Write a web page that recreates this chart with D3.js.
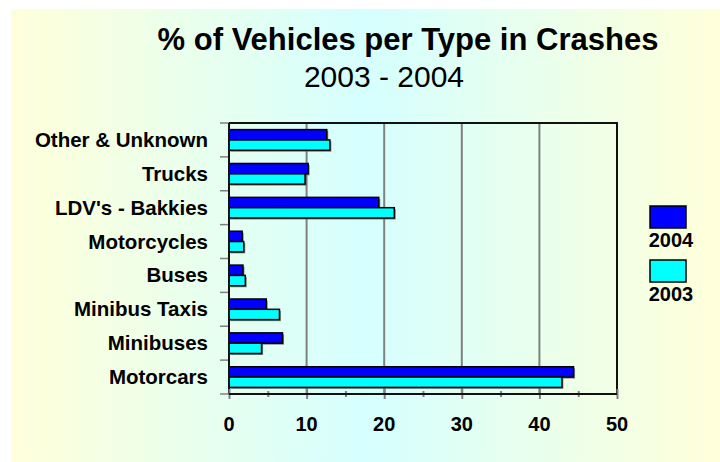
<!DOCTYPE html>
<html><head><meta charset="utf-8">
<script src="https://cdn.jsdelivr.net/npm/d3@7"></script>
<style>html,body{margin:0;padding:0;background:#fff;}svg{display:block;}</style>
</head><body><svg id="chart" width="720" height="462"></svg>
<script>
const categories = ["Other & Unknown","Trucks","LDV's - Bakkies","Motorcycles","Buses","Minibus Taxis","Minibuses","Motorcars"];
const seriesNames = ["2004","2003"];
const values2004 = [12.6, 10.2, 19.3, 1.7, 1.8, 4.8, 6.9, 44.4];
const values2003 = [13.0, 9.8, 21.3, 1.9, 2.1, 6.5, 4.2, 42.9];
const xTicks = [0,10,20,30,40,50];
const colors = {"2004":"#0000FF","2003":"#00FFFF"};
const titleText = "% of Vehicles per Type in Crashes";
const subtitleText = "2003 - 2004";

const svg = d3.select("#chart");
const font = "Arial, 'Liberation Sans', sans-serif";

const defs = svg.append("defs");
const grad = defs.append("linearGradient").attr("id","bg").attr("x1","0%").attr("x2","100%").attr("y1","0%").attr("y2","0%");
grad.append("stop").attr("offset","0%").attr("stop-color","#FFFFDA");
grad.append("stop").attr("offset","50%").attr("stop-color","#D5FFFF");
grad.append("stop").attr("offset","100%").attr("stop-color","#FFFFDA");
svg.append("rect").attr("x",11).attr("y",9).attr("width",709).attr("height",453).attr("fill","url(#bg)");

const L = 229, R = 617, T = 123, B = 394;
const x = d3.scaleLinear().domain([0,50]).range([L,R]);
const y0 = d3.scaleBand().domain(categories).range([T,B]).paddingInner(0).paddingOuter(0);
const y1 = d3.scaleBand().domain(seriesNames).range([0,y0.bandwidth()]).paddingInner(0).paddingOuter(0.64);

// gridlines
svg.append("g").selectAll("line").data(xTicks.filter(d=>d>0&&d<50)).join("line")
  .attr("x1",d=>x(d)).attr("x2",d=>x(d)).attr("y1",T).attr("y2",B)
  .attr("stroke","#808080").attr("stroke-width",2);

// bars
const data = [];
categories.forEach((c,i)=>{
  data.push({c, s:"2004", v:values2004[i]});
  data.push({c, s:"2003", v:values2003[i]});
});
const bars = svg.append("g");
bars.selectAll("rect.sh").data(data).join("rect").attr("class","sh")
  .attr("x",x(0)+1.5).attr("y",d=>y0(d.c)+y1(d.s)+1.5)
  .attr("width",d=>x(d.v)-x(0)).attr("height",y1.bandwidth())
  .attr("fill","#555").attr("opacity",0.7);
bars.selectAll("rect.bar").data(data).join("rect").attr("class","bar")
  .attr("x",x(0)).attr("y",d=>y0(d.c)+y1(d.s))
  .attr("width",d=>x(d.v)-x(0)).attr("height",y1.bandwidth())
  .attr("fill",d=>colors[d.s]).attr("stroke","#000").attr("stroke-width",1.5);

// frame top & right
svg.append("path").attr("d",`M${L},${T}H${R}V${B}`).attr("fill","none").attr("stroke","#111").attr("stroke-width",2);

// left category ticks
svg.append("g").selectAll("line").data(d3.range(categories.length+1)).join("line")
  .attr("x1",L-9).attr("x2",L).attr("y1",i=>T+i*y0.step()).attr("y2",i=>T+i*y0.step())
  .attr("stroke","#808080").attr("stroke-width",1.5);
// left axis
svg.append("line").attr("x1",L).attr("x2",L).attr("y1",T).attr("y2",B).attr("stroke","#111").attr("stroke-width",2);

// x axis
const xAxis = d3.axisBottom(x).tickValues(d3.range(0,51,5)).tickSize(0).tickFormat("");
const gx = svg.append("g").attr("transform",`translate(0,${B})`).call(xAxis);
gx.select(".domain").remove();
gx.selectAll(".tick line").remove();
gx.selectAll(".tick").append("line")
  .attr("y1",d=>d%10===0?-5:-3).attr("y2",d=>d%10===0?5:3)
  .attr("stroke","#808080").attr("stroke-width",2);
svg.append("line").attr("x1",L).attr("x2",R).attr("y1",B).attr("y2",B).attr("stroke","#111").attr("stroke-width",2);

// x tick labels
svg.append("g").selectAll("text").data(xTicks).join("text")
  .attr("x",d=>x(d)).attr("y",431).attr("text-anchor","middle")
  .attr("font-family",font).attr("font-weight","bold").attr("font-size",20)
  .attr("fill","#000").text(d=>d);

// category labels
svg.append("g").selectAll("text").data(categories).join("text")
  .attr("x",208).attr("y",d=>y0(d)+y0.bandwidth()/2+7).attr("text-anchor","end")
  .attr("font-family",font).attr("font-weight","bold").attr("font-size",20.5)
  .attr("fill","#000").text(d=>d);

// title
svg.append("text").attr("x",408).attr("y",50).attr("text-anchor","middle")
  .attr("font-family",font).attr("font-weight","bold").attr("font-size",31).text(titleText);
svg.append("text").attr("x",384).attr("y",87).attr("text-anchor","middle")
  .attr("font-family",font).attr("font-size",30).text(subtitleText);

// legend
const legY = {"2004":206,"2003":260};
const leg = svg.append("g");
seriesNames.forEach(s=>{
  leg.append("rect").attr("x",650).attr("y",legY[s]).attr("width",36).attr("height",22)
    .attr("fill",colors[s]).attr("stroke","#000").attr("stroke-width",1.5);
  leg.append("text").attr("x",671).attr("y",legY[s]+41).attr("text-anchor","middle")
    .attr("font-family",font).attr("font-weight","bold").attr("font-size",20).text(s);
});
</script></body></html>
